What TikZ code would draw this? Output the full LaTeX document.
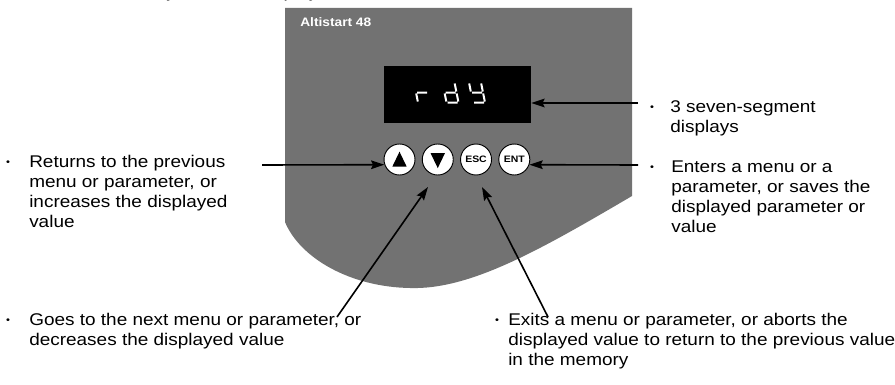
\documentclass[tikz,border=0pt]{standalone}
\usepackage{fontspec}
\setmainfont{Liberation Sans}[FakeStretch=1.12]
\usetikzlibrary{arrows.meta,positioning}
\definecolor{panelgray}{RGB}{114,114,114}
\tikzstyle{keyNode} = [circle, minimum size=23.25pt, inner sep=0pt, draw=black, line width=0.7pt, fill=white, font=\fontsize{7}{7}\selectfont\bfseries]
\tikzstyle{txtNode} = [anchor=base west, align=left, inner sep=0pt, font=\fontsize{12.7}{15}\selectfont]
\tikzstyle{bulNode} = [anchor=base, inner sep=0pt, font=\fontsize{7.5}{7.5}\selectfont]
\tikzstyle{seg} = [white, line width=1.5pt]
\tikzstyle{arrowK} = [line width=1.2pt, -{Stealth[length=10pt,width=6.5pt,inset=1.5pt]}, draw=black]

\begin{document}
\begin{tikzpicture}[x=0.75pt, y=-0.75pt, node distance=28.7pt]
        \useasboundingbox (0,0) rectangle (895,385);
        \node (title) [anchor=base west, inner sep=0pt, font=\fontsize{12.7}{15}\selectfont] at (6,-2) {Functions of the keys and the display};

        % keypad panel
        \fill[panelgray] (285,8) -- (632,8) -- (632,196) .. controls (540,250) and (470,290) .. (410,288)
            .. controls (350,287) and (300,258) .. (285,222) -- cycle;
        \node (brand) [anchor=base west, inner sep=0pt, text=white, font=\fontsize{9.2}{10}\selectfont\bfseries] at (300,26.5) {Altistart 48};

        % display
        \node (disp) [fill=black, minimum width=110.25pt, minimum height=42.75pt, inner sep=0pt] at (457.5,94.5) {};
        \begin{scope}[shift={(418,102.5)}, yscale=-1, xslant=0.2]
            \draw[seg] (0,1) -- (0,9) (1,10) -- (11,10);
        \end{scope}
        \begin{scope}[shift={(446.5,102.5)}, yscale=-1, xslant=0.2]
            \draw[seg] (12,11) -- (12,19) (12,1) -- (12,9) (1,0) -- (11,0) (0,1) -- (0,9) (1,10) -- (11,10);
        \end{scope}
        \begin{scope}[shift={(473,102.5)}, yscale=-1, xslant=0.2]
            \draw[seg] (12,11) -- (12,19) (12,1) -- (12,9) (1,0) -- (11,0) (0,11) -- (0,19) (1,10) -- (11,10);
        \end{scope}

        % keys
        \node (bup) [keyNode] at (399.5,159.5) {};
        \node (bdn) [keyNode, right of=bup] {};
        \node (besc) [keyNode, right of=bdn] {ESC};
        \node (bent) [keyNode, right of=besc] {ENT};
        \fill[shift={(bup)}] (0,-7.8) -- (7.2,7.2) -- (-7.2,7.2) -- cycle;
        \fill[shift={(bdn)}] (0,8.6) -- (7.2,-6.4) -- (-7.2,-6.4) -- cycle;

        % descriptions (placed at the baseline of their last line)
        \node (upbul) [bulNode] at (8,167) {\raisebox{1pt}{•}};
        \node (uptxt) [txtNode] at (29,227) {Returns to the previous\\menu or parameter, or\\increases the displayed\\value};
        \node (dispbul) [bulNode] at (652,112) {\raisebox{1pt}{•}};
        \node (disptxt) [txtNode] at (670,132) {3 seven-segment\\displays};
        \node (entbul) [bulNode] at (652,172) {\raisebox{1pt}{•}};
        \node (enttxt) [txtNode] at (671,232) {Enters a menu or a\\parameter, or saves the\\displayed parameter or\\value};
        \node (dnbul) [bulNode] at (8,325) {\raisebox{1pt}{•}};
        \node (dntxt) [txtNode] at (29,345) {Goes to the next menu or parameter, or\\decreases the displayed value};
        \node (escbul) [bulNode] at (497,325) {\raisebox{1pt}{•}};
        \node (esctxt) [txtNode] at (508,365) {Exits a menu or parameter, or aborts the\\displayed value to return to the previous value\\in the memory};

        % pointers
        \coordinate (upfrom) at (262,165);
        \coordinate (dispfrom) at (638,103);
        \coordinate (entfrom) at (638,165);
        \coordinate (dnfrom) at (337,317);
        \coordinate (dntip) at (428,187);
        \coordinate (escfrom) at (548,317);
        \coordinate (esctip) at (482,187);
        \draw [arrowK] (upfrom) -- (bup.199);
        \draw [arrowK] (dispfrom) -- (disp.east |- dispfrom);
        \draw [arrowK] (entfrom) -- (bent.-19);
        \draw [arrowK] (dnfrom) -- (dntip);
        \draw [arrowK] (escfrom) -- (esctip);
    \end{tikzpicture}
\end{document}
